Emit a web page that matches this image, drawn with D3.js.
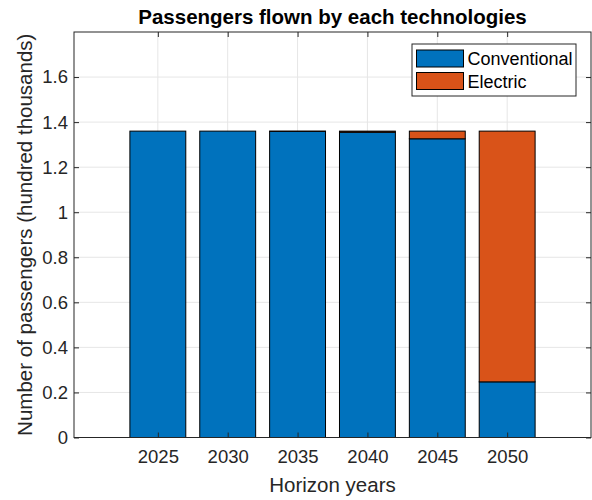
<!DOCTYPE html>
<html>
<head>
<meta charset="utf-8">
<script src="https://cdn.jsdelivr.net/npm/d3@7/dist/d3.min.js"></script>
<style>
  html, body { margin: 0; padding: 0; background: #fff; }
  svg { display: block; font-family: "Liberation Sans", Arial, Helvetica, sans-serif; }
</style>
</head>
<body>
<svg id="chart" width="592" height="500"></svg>
<script>
// Passengers per horizon year, split by aircraft technology (hundred thousands)
const years = [2025, 2030, 2035, 2040, 2045, 2050];
const conventional = [1.36, 1.36, 1.359, 1.355, 1.326, 0.247];
const electric = [0.0, 0.0, 0.001, 0.005, 0.034, 1.113];
const seriesNames = ["Conventional", "Electric"];
const seriesColors = ["#0072BD", "#D95319"];
const yTicks = [0, 0.2, 0.4, 0.6, 0.8, 1, 1.2, 1.4, 1.6];

const svg = d3.select("#chart");
const m = { left: 74, right: 591, top: 32, bottom: 437.5 };
const axisColor = "#262626";
const gridColor = "#e6e6e6";
const tickFont = "18.5px";
const labelFont = "20.5px";

const x = d3.scaleLinear().domain([2019, 2056]).range([m.left, m.right]);
const y = d3.scaleLinear().domain([0, 1.8]).range([m.bottom, m.top]);
const barW = x(2029) - x(2025); // bar width = 0.8 of the 5-year spacing

// Grid lines
const grid = svg.append("g");
grid.selectAll("line.gy").data(yTicks).join("line")
  .attr("x1", m.left).attr("x2", m.right)
  .attr("y1", d => y(d)).attr("y2", d => y(d))
  .attr("stroke", gridColor).attr("stroke-width", 1);
grid.selectAll("line.gx").data(years).join("line")
  .attr("y1", m.top).attr("y2", m.bottom)
  .attr("x1", d => x(d)).attr("x2", d => x(d))
  .attr("stroke", gridColor).attr("stroke-width", 1);

// Stacked bars
const rows = years.map((yr, i) => ({ year: yr, Conventional: conventional[i], Electric: electric[i] }));
const stack = d3.stack().keys(seriesNames)(rows);
svg.append("g").selectAll("g").data(stack).join("g")
  .attr("fill", (d, i) => seriesColors[i])
  .selectAll("rect").data(d => d).join("rect")
  .attr("x", d => x(d.data.year) - barW / 2)
  .attr("width", barW)
  .attr("y", d => y(d[1]))
  .attr("height", d => y(d[0]) - y(d[1]))
  .attr("stroke", "#000").attr("stroke-width", 1);

// Axes (boxed, ticks pointing inward)
const tickLen = 5;
const axB = d3.axisBottom(x).tickValues(years).tickFormat(d3.format("d")).tickSize(-tickLen).tickPadding(12);
const axT = d3.axisTop(x).tickValues(years).tickFormat("").tickSize(-tickLen);
const axL = d3.axisLeft(y).tickValues(yTicks).tickFormat(d => d3.format("~g")(d)).tickSize(-tickLen).tickPadding(6);
const axR = d3.axisRight(y).tickValues(yTicks).tickFormat("").tickSize(-tickLen);

function style(g) {
  g.select(".domain").remove();
  g.selectAll(".tick line").attr("stroke", axisColor);
  g.selectAll(".tick text").attr("fill", axisColor).style("font-size", tickFont)
    .style("font-family", "'Liberation Sans', Arial, sans-serif");
}
svg.append("g").attr("transform", `translate(0,${m.bottom})`).call(axB).call(style);
svg.append("g").attr("transform", `translate(0,${m.top})`).call(axT).call(style);
svg.append("g").attr("transform", `translate(${m.left},0)`).call(axL).call(style);
svg.append("g").attr("transform", `translate(${m.right},0)`).call(axR).call(style);

// Axes box
svg.append("rect")
  .attr("x", m.left).attr("y", m.top)
  .attr("width", m.right - m.left).attr("height", m.bottom - m.top)
  .attr("fill", "none").attr("stroke", axisColor).attr("stroke-width", 1);

// Title and axis labels
svg.append("text")
  .attr("x", (m.left + m.right) / 2).attr("y", 24)
  .attr("text-anchor", "middle").attr("fill", "#000")
  .style("font-size", labelFont).style("font-weight", "bold")
  .text("Passengers flown by each technologies");
svg.append("text")
  .attr("x", (m.left + m.right) / 2).attr("y", 492)
  .attr("text-anchor", "middle").attr("fill", axisColor)
  .style("font-size", labelFont)
  .text("Horizon years");
svg.append("text")
  .attr("transform", `translate(32,${(m.top + m.bottom) / 2}) rotate(-90)`)
  .attr("text-anchor", "middle").attr("fill", axisColor)
  .style("font-size", labelFont)
  .text("Number of passengers (hundred thousands)");

// Legend
const lg = svg.append("g").attr("transform", "translate(412,44)");
lg.append("rect").attr("width", 164).attr("height", 52)
  .attr("fill", "#fff").attr("stroke", axisColor).attr("stroke-width", 1);
seriesNames.forEach((name, i) => {
  const row = lg.append("g").attr("transform", `translate(4.5,${6 + i * 22.5})`);
  row.append("rect").attr("width", 47).attr("height", 17)
    .attr("fill", seriesColors[i]).attr("stroke", "#000").attr("stroke-width", 1);
  row.append("text").attr("x", 51).attr("y", 15)
    .attr("fill", "#000").style("font-size", "18px").text(name);
});
</script>
</body>
</html>
